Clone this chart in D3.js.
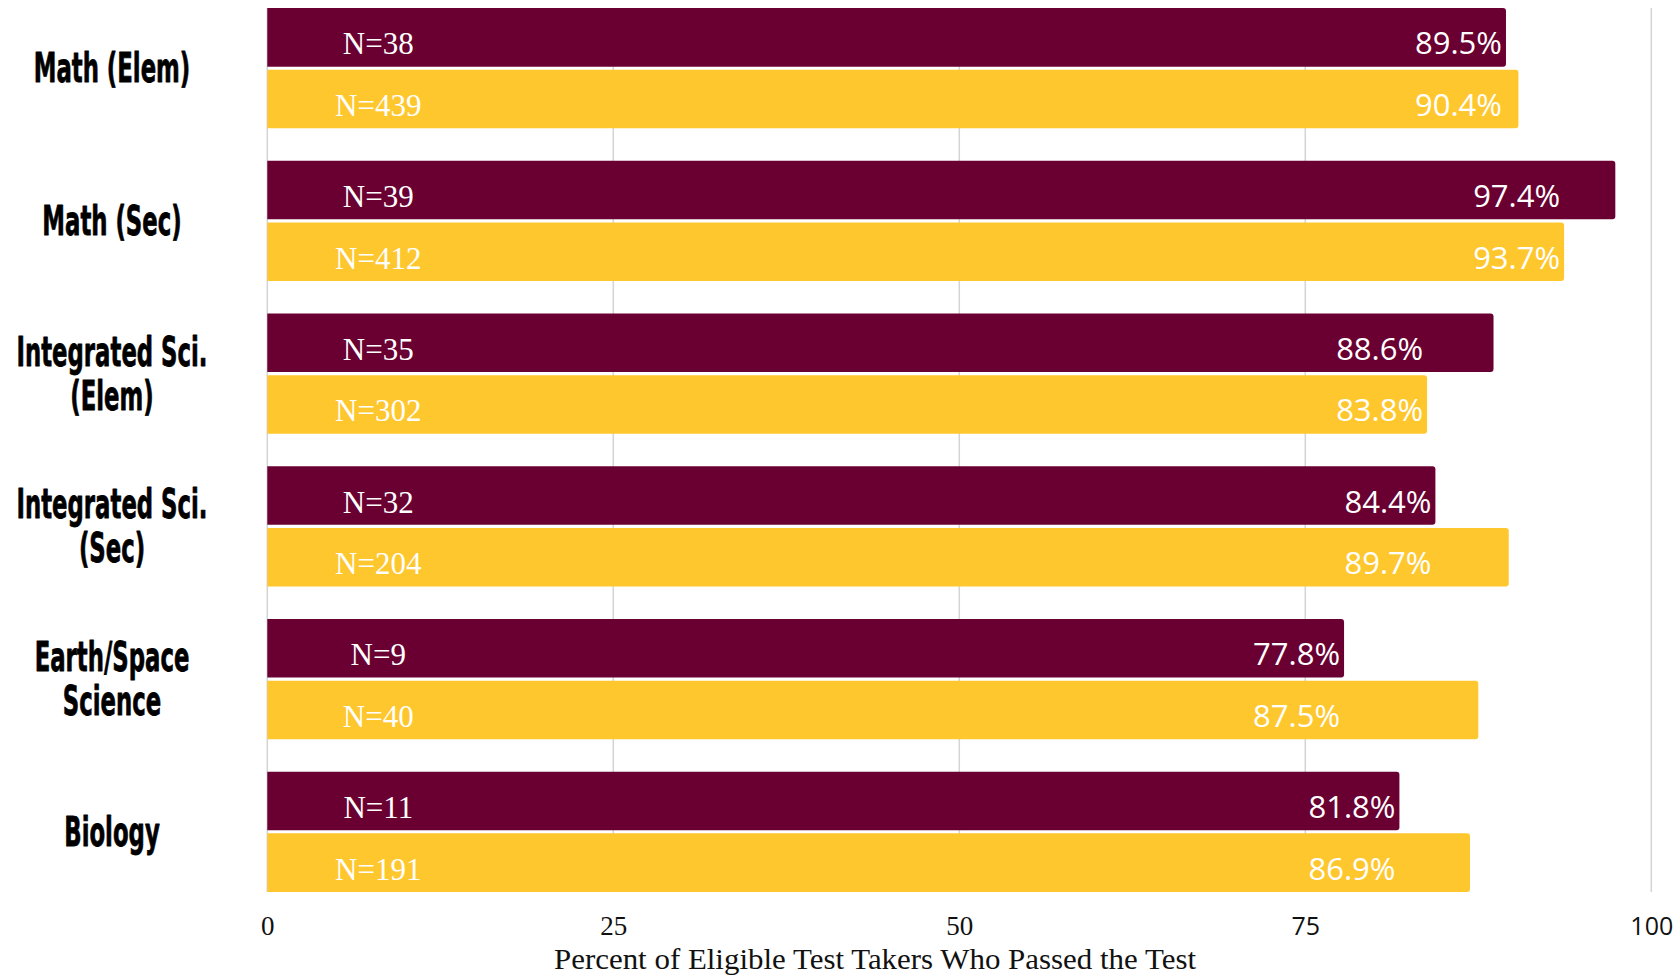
<!DOCTYPE html>
<html>
<head>
<meta charset="utf-8">
<script src="https://cdn.jsdelivr.net/npm/d3@7"></script>
<style>
  html, body { margin: 0; padding: 0; background: #ffffff; }
  svg { display: block; }
</style>
</head>
<body>
<svg id="chart" width="1680" height="976"></svg>
<script>
// ---- data ----
const categories = ["Math (Elem)", "Math (Sec)", "Integrated Sci. (Elem)", "Integrated Sci. (Sec)", "Earth/Space Science", "Biology"];
const categoryLines = [["Math (Elem)"], ["Math (Sec)"], ["Integrated Sci.", "(Elem)"], ["Integrated Sci.", "(Sec)"], ["Earth/Space", "Science"], ["Biology"]];
const seriesNames = ["Program", "Statewide"];
const programPct = [89.5, 97.4, 88.6, 84.4, 77.8, 81.8];
const statewidePct = [90.4, 93.7, 83.8, 89.7, 87.5, 86.9];
const programN = [38, 39, 35, 32, 9, 11];
const statewideN = [439, 412, 302, 204, 40, 191];
const tickValues = [0, 25, 50, 75, 100];
const axisTitle = "Percent of Eligible Test Takers Who Passed the Test";

// ---- styles ----
const colors = { Program: "#6A0032", Statewide: "#FFC72E" };
const serif = "'Liberation Serif', 'DejaVu Serif', serif";
const sans = "'Open Sans', 'Noto Sans', sans-serif";

const svg = d3.select("#chart");

const x = d3.scaleLinear().domain([0, 100]).range([267.3, 1651.3]);
const y = d3.scaleBand().domain(categories).range([8, 892]).paddingInner(0.212).paddingOuter(0);
const y1 = d3.scaleBand().domain(seriesNames).range([0, y.bandwidth()]).paddingInner(0.05).paddingOuter(0);

// gridlines
svg.append("g").selectAll("line").data(tickValues).join("line")
  .attr("x1", d => x(d)).attr("x2", d => x(d))
  .attr("y1", y.range()[0]).attr("y2", y.range()[1])
  .attr("stroke", "#d4d4d4").attr("stroke-width", 1.5);

// build rows
const rows = [];
categories.forEach((c, i) => {
  const pair = [programPct[i], statewidePct[i]];
  const minVal = d3.min(pair);
  rows.push({ cat: c, series: "Program", value: programPct[i], n: programN[i], minVal, idx: i });
  rows.push({ cat: c, series: "Statewide", value: statewidePct[i], n: statewideN[i], minVal, idx: i });
});

function barPath(x0, x1, y0, h, r) {
  return `M${x0},${y0}H${x1 - r}Q${x1},${y0} ${x1},${y0 + r}V${y0 + h - r}Q${x1},${y0 + h} ${x1 - r},${y0 + h}H${x0}Z`;
}

const defs = svg.append("defs");
rows.forEach((d, k) => {
  d.y0 = y(d.cat) + y1(d.series);
  d.h = y1.bandwidth();
  d.path = barPath(x(0), x(d.value), d.y0, d.h, 3);
  d.clip = "clip" + k;
  defs.append("clipPath").attr("id", d.clip).append("path").attr("d", d.path);
});

const barG = svg.append("g");
barG.selectAll("path").data(rows).join("path")
  .attr("d", d => d.path)
  .attr("fill", d => colors[d.series]);

// N labels
const labG = svg.append("g");
labG.selectAll("text.n").data(rows).join("text")
  .attr("class", "n")
  .attr("x", x(0) + 111)
  .attr("y", d => d.y0 + d.h / 2 + 17)
  .attr("text-anchor", "middle")
  .attr("fill", "#ffffff")
  .style("font-family", serif)
  .style("font-size", "31px")
  .text(d => "N=" + d.n);

// percent labels (clipped to bars)
labG.selectAll("text.p").data(rows).join("text")
  .attr("class", "p")
  .attr("clip-path", d => `url(#${d.clip})`)
  .attr("x", d => x(d.minVal) - 4)
  .attr("y", d => d.y0 + d.h / 2 + 17)
  .attr("text-anchor", "end")
  .attr("fill", "#ffffff")
  .style("font-family", sans)
  .style("font-size", "31px")
  .text(d => d.value.toFixed(1) + "%");

// category labels (one text per category, lines as tspans, horizontally condensed)
const catG = svg.append("g");
const squeeze = 0.57;
categories.forEach((c, i) => {
  const lines = categoryLines[i];
  const cy = y(c) + y.bandwidth() / 2;
  const lh = 44;
  const firstY = -(lines.length - 1) / 2 * lh + 14;
  const t = catG.append("text")
    .attr("transform", `translate(112,${cy}) scale(${squeeze},1)`)
    .attr("text-anchor", "middle")
    .attr("fill", "#000000")
    .attr("stroke", "#000000")
    .attr("stroke-width", 0.8)
    .attr("stroke-linejoin", "round")
    .style("font-family", "'DejaVu Sans', sans-serif")
    .style("font-weight", "bold")
    .style("font-size", "40px");
  lines.forEach((ln, j) => {
    t.append("tspan")
      .attr("x", 0)
      .attr("y", firstY + j * lh)
      .text(ln);
  });
});

// x axis tick labels
const axis = d3.axisBottom(x).tickValues(tickValues).tickSize(0).tickPadding(0).tickFormat(d3.format("d"));
const axG = svg.append("g").attr("transform", "translate(0,935)").call(axis);
axG.select(".domain").remove();
axG.selectAll(".tick text")
  .attr("y", 0).attr("dy", 0)
  .attr("fill", "#111111")
  .style("font-family", d => d >= 75 ? sans : serif)
  .style("font-size", d => d >= 75 ? "25px" : "27px");

// axis title
svg.append("text")
  .attr("x", 875)
  .attr("y", 969)
  .attr("text-anchor", "middle")
  .attr("fill", "#111111")
  .attr("textLength", 642)
  .attr("lengthAdjust", "spacingAndGlyphs")
  .style("font-family", serif)
  .style("font-size", "30px")
  .text(axisTitle);
</script>
</body>
</html>
